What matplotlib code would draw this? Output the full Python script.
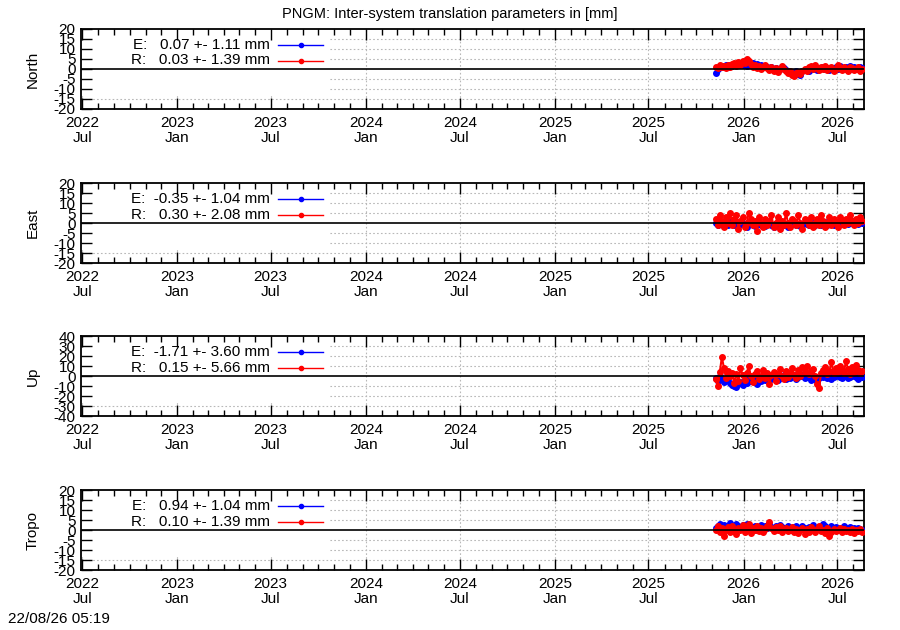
import matplotlib
matplotlib.use('Agg')
import matplotlib.pyplot as plt
import matplotlib.dates as mdates
import numpy as np
import pandas as pd
from matplotlib.patches import Rectangle

plt.rcParams['font.family'] = ['Liberation Sans', 'DejaVu Sans']
plt.rcParams['axes.unicode_minus'] = False

# sampling dates (one value every 4 days)
dates = pd.date_range('2025-11-08', periods=72, freq='4D')

panels = ['North', 'East', 'Up', 'Tropo']
ylims = [20, 20, 40, 20]
ysteps = [5, 5, 10, 5]

# legend statistics: mean, rms
stats_E = [(0.07, 1.11), (-0.35, 1.04), (-1.71, 3.60), (0.94, 1.04)]
stats_R = [(0.03, 1.39), (0.30, 2.08), (0.15, 5.66), (0.10, 1.39)]

north_E = [-2, 0, 1, 1.5, 1, 2, 1, 2, 1.5, 2, 2.5, 2, 3, 2, 2.5, 1.5, 3, 2,
           3, 2, 2.5, 1.5, 2, 1, 1.5, 1, 0.5, 1, 0, 0.5, -0.5, 0, 1, 0.5,
           -0.5, -1, -1.5, -2, -1.5, -1, -2.5, -3, -1, -0.5, 0, -1, 0.5, 0, 1, -0.5,
           0, 0.5, 1, 0, 0.5, -0.5, 0.5, 0, 1, 0, 1.5, 0.5, 0, 1, 0.5, 1.5,
           0, 1, 0.5, 0, 1, 0.5]
north_R = [1, 0.5, 2, 1, 1.5, 0.5, 2, 1, 2.5, 3, 1.5, 3.5, 2, 4, 3, 5, 4, 2.5,
           1, 2, 0.5, 1.5, 0, 1, 2, 0.5, -0.5, 1, -1, 0.5, -1.5, 0, 1.5, 0,
           -1, -2, -1, -3, -3.5, -2, -1.5, -2.5, -1, 0, -1, 1, 1.5, 0, 2, 0.5,
           -0.5, 1, 0, 1.5, -0.5, 0.5, 1, -1, 0, 2, 0.5, -0.5, 1, 0, -1, 1,
           0.5, -0.5, 0, 1, -1, 0]

east_E = [0, -1, 0.5, -0.5, -1.5, 0, -1, 0.5, -0.5, -1, 0, -1.5,
          -0.5, 0, -1, -2, -0.5, 0, -1, -1.5, -0.5, 0, -1, -0.5,
          -1.5, -0.5, 0, -1, -2, -1, -0.5, -1.5, 0, -1, -0.5, -2,
          -1, -0.5, 0, -1, -0.5, -1.5, -1, 0, -0.5, -1, -0.5, 0,
          -1, -0.5, 0, -1, -0.5, 0.5, -1, -0.5, 0, -1, 0.5, 0,
          -0.5, 0, 1, 0.5, -0.5, 0, 1, 0.5, 0, -0.5, 1, 0]
east_R = [2, -1, 4, 1, -2, 3, 0, 5, -1, 2, 4, -3,
          1, 3, -2, 0, 5, 2, -1, 1, -4, 3, 0, -2,
          2, -1, 1, 4, -2, 0, 3, -3, 1, -1, 5, 0,
          -2, 2, 1, -1, 4, 0, -3, 2, 1, -1, 3, -2,
          0, 2, -1, 4, 1, -2, 0, 3, -1, 2, 0, -2,
          3, 1, -1, 2, 0, 4, 1, -1, 2, 0, 3, 1]

up_E = [-2, -5, 0, -3, -6, -4, -2, -7, -9, -10, -11, -8,
        -6, -9, -4, -7, -3, -5, -2, -6, -8, -3, -5, -1,
        -4, -2, 0, -3, 2, -1, -4, 0, -2, 1, -3, -1,
        -2, 0, 1, -3, -1, 2, 0, -2, 1, -1, -4, 0,
        -3, -5, -2, 0, -1, 1, -2, 0, -3, -1, 2, 0,
        -1, -2, 1, 0, -2, -1, 2, 0, -1, -3, 0, -1]
up_R = [-3, -10, 4, 19, 8, -2, 5, 0, 3, -7, 2, -5,
        8, 1, -4, 3, 10, 0, -6, 2, 5, -3, 0, 6,
        -2, 3, -8, 1, 4, -5, 2, 7, 0, -3, 5, -1,
        3, 8, 1, -2, 6, 0, 9, 4, 10, 2, 5, 7,
        0, -8, -12, 3, 6, 9, 2, 5, 14, 3, 8, 4,
        10, 6, 3, 15, 7, 2, 9, 4, 11, 6, 3, 5]

tropo_E = [1, 2, 3, 0.5, 2.5, 1, 2, 3.5, 2, 1, 3, 2,
           1.5, 2.5, 1, 3, 2, 0.5, 1.5, 2, 0, 1, 2.5, 1,
           2, 1, 3, 1.5, 0.5, 2, 1, 2.5, 1.5, 0.5, 1, 2,
           1, 0, 1.5, 2, 1, 0.5, 2, 1, 0, 1.5, 1, 2.5,
           1, 0.5, 1.5, 1, 3, 2, 0.5, 1, 2, 0, 1.5, 1,
           0.5, 1, 2, 0, 1, 1.5, 0.5, 1, 0, 1, 0.5, 0]
tropo_R = [0, 2, -1, 1, -3, 0, 1.5, -1, 2, -0.5, -2, 1,
           0, 2.5, -1, 0.5, 3, -1.5, 1, 0, 2, -0.5, 1, -1,
           0.5, 2, 4, 1, -0.5, 1.5, 0, 2, -1, 0.5, 1, -0.5,
           0, 1.5, -1, 0.5, -1.5, 0, 1, -2, 0.5, -1, 1.5, 0,
           -1, 0.5, 2, -0.5, 0, -1.5, 1, -3, -1, 0.5, -0.5, 0,
           1, -1, 0.5, -0.5, 0, -1, 0.5, -1.5, 0, -0.5, 0.5, -1]

series_E = [north_E, east_E, up_E, tropo_E]
series_R = [north_R, east_R, up_R, tropo_R]

fig = plt.figure(figsize=(9, 6.3), dpi=100)
fig.text(0.5, 0.978, 'PNGM: Inter-system translation parameters in [mm]',
         ha='center', va='center', fontsize=10.5)

tops = [29, 183, 336, 490]
grid_kw = dict(color='#b8b8b8', linestyle=(0, (1.5, 2)), linewidth=0.8, zorder=0.5)

for k in range(4):
    top = tops[k]
    ax = fig.add_axes([81 / 900, 1 - (top + 80) / 630, 783 / 900, 80 / 630])
    lim = ylims[k]
    ax.set_ylim(-lim, lim)
    ax.set_yticks(np.arange(-lim, lim + 1, ysteps[k]))
    ax.set_xlim(pd.Timestamp('2022-06-29'), pd.Timestamp('2026-08-22'))
    ax.xaxis.set_major_locator(mdates.MonthLocator(bymonth=[1, 7]))
    ax.xaxis.set_minor_locator(mdates.MonthLocator())
    ax.xaxis.set_major_formatter(mdates.DateFormatter('%Y\n%b'))
    ax.tick_params(which='both', direction='in', top=True, right=True,
                   labelsize=11, width=1)
    ax.tick_params(which='major', length=8)
    ax.tick_params(which='minor', length=4)
    ax.tick_params(axis='x', pad=5)
    ax.tick_params(axis='y', pad=4)
    for lab in ax.get_xticklabels():
        lab.set_linespacing(1.1)
    for sp in ax.spines.values():
        sp.set_linewidth(1.3)

    # grid, then opaque key box over it
    for xt in ax.get_xticks():
        ax.axvline(xt, **grid_kw)
    for yt in ax.get_yticks()[1:-1]:
        if yt != 0:
            ax.axhline(yt, **grid_kw)
    ax.add_patch(Rectangle((0, 0.19), 0.318, 0.81, transform=ax.transAxes,
                           facecolor='white', edgecolor='none', zorder=1))

    ax.plot(dates, series_E[k], color='blue', lw=1.5, marker='o', ms=4, zorder=3)
    ax.plot(dates, series_R[k], color='red', lw=1.5, marker='o', ms=4, zorder=3.2)
    ax.axhline(0, color='black', lw=1.2, zorder=4)

    ax.set_ylabel(panels[k], fontsize=11)
    ax.yaxis.set_label_coords(-0.053, 0.5)

    # key
    for row, (name, st, col) in enumerate([('E', stats_E[k], 'blue'), ('R', stats_R[k], 'red')]):
        yy = 1 - (16 + 15.5 * row) / 80
        ax.text(0.241, yy, f'{name}: {st[0]:6.2f} +- {st[1]:4.2f} mm',
                transform=ax.transAxes, ha='right', va='center', fontsize=11, zorder=5)
        ax.plot([0.252, 0.309], [yy, yy], color=col, lw=1, transform=ax.transAxes,
                clip_on=False, zorder=5)
        ax.plot([0.281], [yy], color=col, marker='o', ms=3, transform=ax.transAxes,
                clip_on=False, zorder=5)

fig.text(8 / 900, 4 / 630, '22/08/26 05:19', ha='left', va='bottom', fontsize=11)

fig.savefig('out.png', dpi=100)
